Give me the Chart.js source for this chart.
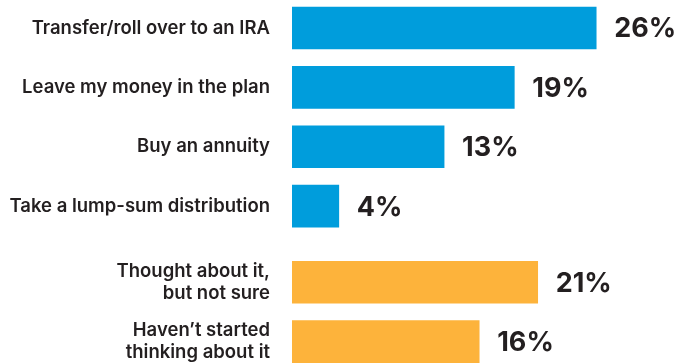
<!DOCTYPE html>
<html>
<head>
<meta charset="utf-8">
<script src="https://cdn.jsdelivr.net/npm/chart.js@4.4.1/dist/chart.umd.min.js"></script>
<style>
  html, body { margin: 0; padding: 0; background: #fff; }
  #wrap { width: 676px; height: 364px; position: relative; }
</style>
</head>
<body>
<div id="wrap"><canvas id="retireChart"></canvas></div>
<script>
// ====================== DATA ======================
const categories = [
  "Transfer/roll over to an IRA",
  "Leave my money in the plan",
  "Buy an annuity",
  "Take a lump-sum distribution",
  ["Thought about it,", "but not sure"],
  ["Haven\u2019t started", "thinking about it"]
];
const shares = [26, 19, 13, 4, 21, 16];
const groups = ["decided", "decided", "decided", "decided", "undecided", "undecided"];

const groupColors = { decided: "#009ddc", undecided: "#fdb33b" };
const TEXT = "#231f20";

// slot for each bar; a small extra gap where the group changes
const GROUP_GAP = 0.28;
const slots = [];
let extra = 0;
groups.forEach((g, i) => {
  if (i > 0 && g !== groups[i - 1]) extra += GROUP_GAP;
  slots.push(i + extra);
});

// ====================== VALUE LABELS ======================
const valueLabels = {
  id: "valueLabels",
  afterDatasetsDraw(chart) {
    const ctx = chart.ctx;
    const meta = chart.getDatasetMeta(0);
    ctx.save();
    ctx.fillStyle = TEXT;
    ctx.font = "700 27px Inter";
    ctx.textAlign = "left";
    ctx.textBaseline = "alphabetic";
    meta.data.forEach((bar, i) => {
      ctx.fillText(shares[i] + "%", bar.x + 18, bar.y + 9.5);
    });
    ctx.restore();
  }
};

// ====================== CHART ======================
const ctx = document.getElementById("retireChart").getContext("2d");
new Chart(ctx, {
  type: "bar",
  data: {
    datasets: [{
      data: shares.map((v, i) => ({ x: v, y: slots[i] })),
      backgroundColor: groups.map(g => groupColors[g]),
      borderWidth: 0,
      barThickness: 42
    }]
  },
  options: {
    indexAxis: "y",
    responsive: true,
    maintainAspectRatio: false,
    animation: false,
    layout: { padding: { left: 0, right: 33, top: 0, bottom: 0 } },
    scales: {
      x: {
        type: "linear",
        min: 0,
        max: 30,
        display: false
      },
      y: {
        type: "linear",
        reverse: true,
        offset: false,
        min: -0.471,
        max: 5.657,
        grid: { display: false, drawTicks: false },
        border: { display: false },
        afterBuildTicks: (scale) => {
          scale.ticks = slots.map(v => ({ value: v }));
        },
        afterFit: (scale) => {
          scale.width = 292;
          scale.paddingTop = 0;
          scale.paddingBottom = 0;
        },
        ticks: {
          padding: 22,
          color: TEXT,
          font: { family: "Inter", size: 18.5, weight: "600", lineHeight: 1.2 },
          callback: (value, index) => categories[index]
        }
      }
    },
    plugins: {
      legend: { display: false },
      tooltip: { enabled: false }
    }
  },
  plugins: [valueLabels]
});
</script>
</body>
</html>
